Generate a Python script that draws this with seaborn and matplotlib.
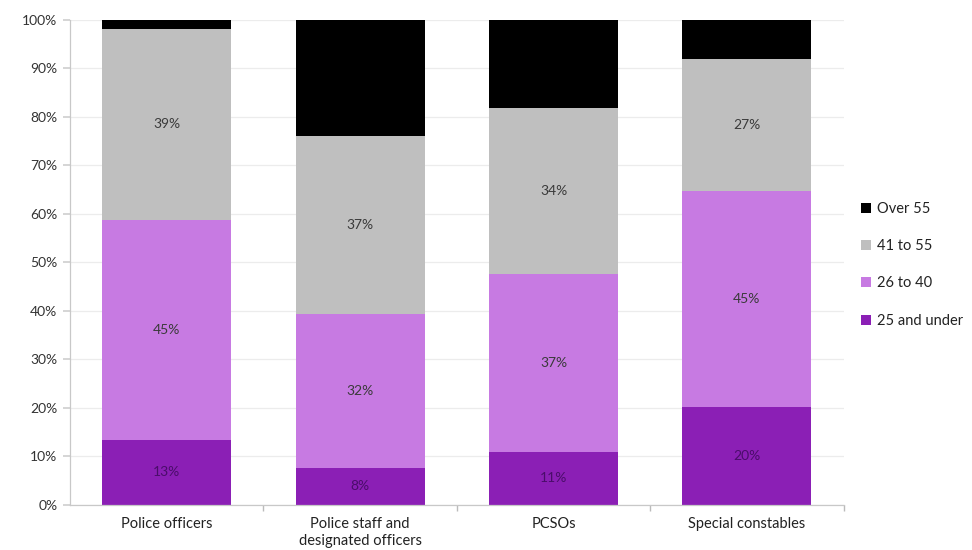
import numpy as np
import pandas as pd
import matplotlib
matplotlib.use("Agg")
import matplotlib.pyplot as plt
from matplotlib.patches import Patch
import seaborn as sns

categories = ["Police officers", "Police staff and\ndesignated officers", "PCSOs", "Special constables"]
age_groups = ["25 and under", "26 to 40", "41 to 55", "Over 55"]
under_25 = [13.4, 7.6, 10.9, 20.2]
age_26_40 = [45.4, 31.8, 36.7, 44.6]
age_41_55 = [39.3, 36.7, 34.3, 27.1]
over_55 = [1.9, 23.9, 18.1, 8.1]
colors = ["#8B1FB5", "#C77AE2", "#BFBFBF", "#000000"]
label_colors = ["#4A0D6A", "#3A3A3A", "#3A3A3A", None]

sns.set_theme(style="white")
plt.rcParams["font.family"] = ["Lato", "DejaVu Sans"]

series = [under_25, age_26_40, age_41_55, over_55]
df = pd.DataFrame({"category": categories})
for name, vals in zip(age_groups, series):
    df[name] = vals
cum = np.cumsum(np.array(series), axis=0)

fig = plt.figure(figsize=(9.72, 5.5), dpi=100)
ax = fig.add_axes([0.072, 0.082, 0.796, 0.882])

# Draw cumulative totals from the top layer down so lower layers sit on top
for i in reversed(range(len(age_groups))):
    sns.barplot(x=df["category"], y=cum[i], color=colors[i], width=0.667,
                saturation=1, linewidth=0, edgecolor="none", ax=ax, zorder=2)

# Segment labels at the centre of each segment
for i, name in enumerate(age_groups):
    if label_colors[i] is None:
        continue
    base = cum[i - 1] if i > 0 else np.zeros(len(categories))
    for j, v in enumerate(series[i]):
        ax.text(j, base[j] + v / 2, f"{round(v)}%", ha="center", va="center",
                fontsize=10, color=label_colors[i], zorder=3)

ax.set_ylim(0, 100)
ax.set_xlim(-0.5, len(categories) - 0.5)
ax.set_yticks(np.arange(0, 101, 10))
ax.set_yticklabels([f"{t}%" for t in range(0, 101, 10)], fontsize=10, color="#333333")
ax.set_xticks(range(len(categories)))
ax.set_xticklabels(categories, fontsize=10.5, color="#222222")
ax.set_xlabel("")
ax.set_ylabel("")
ax.tick_params(axis="x", length=0, pad=9)
ax.tick_params(axis="y", length=5, color="#D0D0D0", left=True, pad=4)
ax.set_xticks(np.arange(0.5, len(categories) - 0.5 + 1e-9, 1.0), minor=True)
ax.tick_params(axis="x", which="minor", length=4, color="#BBBBBB", bottom=True)

ax.yaxis.grid(True, color="#ECECEC", linewidth=0.9, zorder=0)
ax.set_axisbelow(True)
for side in ["top", "right"]:
    ax.spines[side].set_visible(False)
for side in ["left", "bottom"]:
    ax.spines[side].set_color("#C8C8C8")
    ax.spines[side].set_linewidth(0.9)

handles = [Patch(facecolor=colors[i], edgecolor="none", label=age_groups[i])
           for i in reversed(range(len(age_groups)))]
leg = fig.legend(handles=handles, loc="upper left", bbox_to_anchor=(0.872, 0.657),
                 frameon=False, fontsize=10.5, handlelength=0.7, handleheight=0.7,
                 handletextpad=0.4, labelspacing=1.6, labelcolor="#222222")

fig.savefig("out.png", dpi=100)
